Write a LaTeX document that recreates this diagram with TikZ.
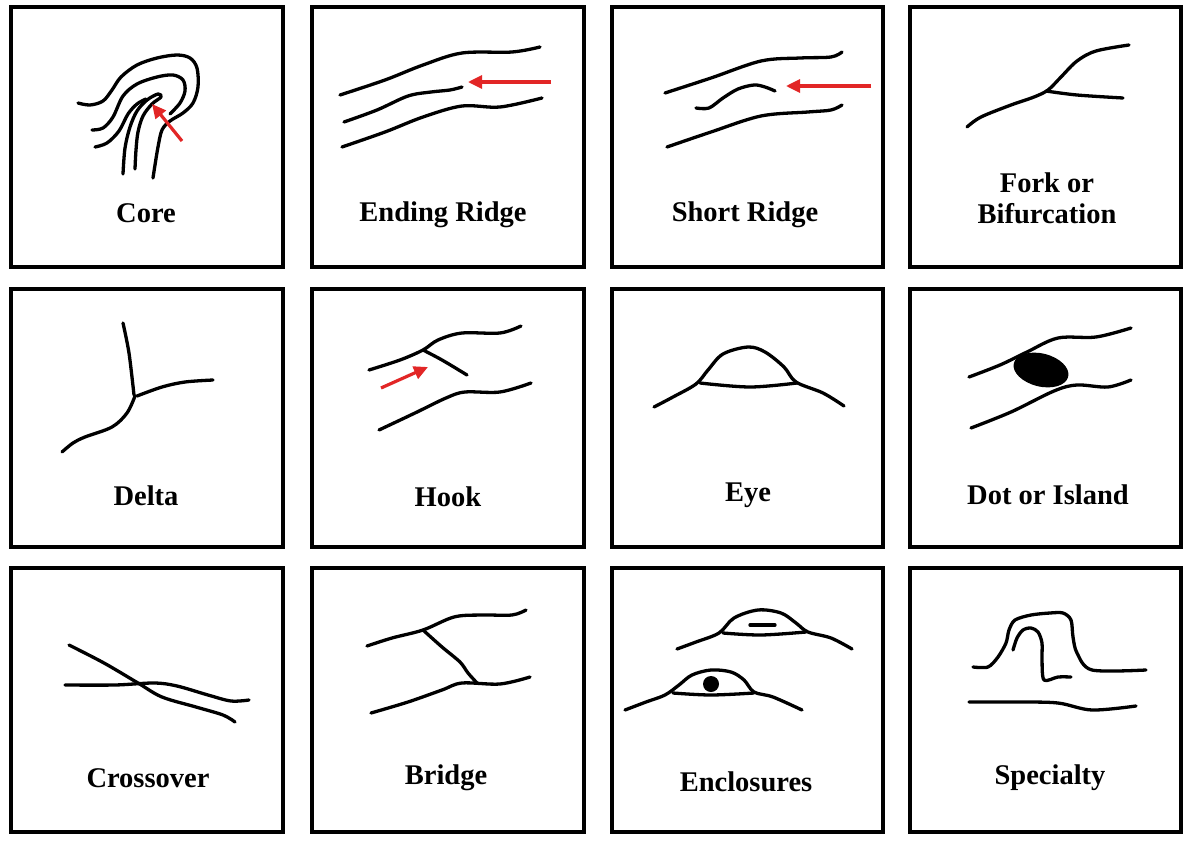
\documentclass[tikz,border=0pt]{standalone}
\usepackage{fontspec}
\setmainfont{Liberation Serif}
\usetikzlibrary{arrows.meta}
\definecolor{ridgered}{RGB}{226,38,38}
\begin{document}
\begin{tikzpicture}[x=1pt,y=-1pt,
  panelbox/.style={draw=black,line width=4.5pt},
  ridge/.style={draw=black,line width=3.3pt,line cap=round,line join=round},
  redarrow/.style={draw=ridgered,line width=3.2pt,-{Triangle[length=14pt,width=13pt]}},
  lbl/.style={font=\fontsize{28.5}{32}\selectfont\bfseries,align=center,inner sep=0pt}]
\useasboundingbox (0,0) rectangle (1192,846);
\fill[white] (0,0) rectangle (1192,846);
% panels
\foreach \xa/\xb in {11/283,312/584,612/883,910/1181}{
  \foreach \ya/\yb in {7/267,289/547,568/832}{
    \draw[panelbox] (\xa,\ya) rectangle (\xb,\yb);
  }}
% ---------- Core
\draw[ridge] plot[smooth,tension=0.55] coordinates {(78,103) (90,105) (103,101) (112,90) (121,77) (137,65) (157,58) (177,55) (190,58) (197,68) (198,87) (193,103) (183,113) (170,121) (162,130) (158,147) (155,165) (153,178)};
\draw[ridge] plot[smooth,tension=0.55] coordinates {(92,130) (103,128) (113,117) (123,96) (137,84) (157,77) (173,75) (183,80) (185,91) (180,103) (170,114)};
\draw[ridge] plot[smooth,tension=0.55] coordinates {(123,174) (125,148) (130,127) (137,111) (147,100) (158,94) (161,97) (152,104) (143,116) (138,132) (136,150) (135,169)};
\draw[ridge] plot[smooth,tension=0.55] coordinates {(95,147) (107,143) (119,131) (128,114) (137,104) (146,99)};
\coordinate (coreT) at (182,141);
\coordinate (coreH) at (152,104);
\draw[redarrow] (coreT) -- (coreH);
\node[lbl] (tcore) at (146,213) {Core};
% ---------- Ending Ridge
\draw[ridge] plot[smooth,tension=0.55] coordinates {(340,95) (385,80) (423,65) (462,53) (512,52) (540,47)};
\draw[ridge] plot[smooth,tension=0.55] coordinates {(344,122) (377,110) (408,96) (431,92) (450,90) (462,87)};
\draw[ridge] plot[smooth,tension=0.55] coordinates {(342,147) (385,132) (423,117) (462,106) (500,107) (542,98)};
\coordinate (endT) at (551,82);
\coordinate (endH) at (468,82);
\draw[redarrow] (endT) -- (endH);
\node[lbl] (tend) at (443,215) {Ending Ridge};
% ---------- Short Ridge
\draw[ridge] plot[smooth,tension=0.55] coordinates {(665,93) (711,78) (761,61) (800,58) (831,57) (842,52)};
\draw[ridge] plot[smooth,tension=0.55] coordinates {(696,108) (709,108) (723,98) (738,89) (754,85) (765,87) (775,91)};
\draw[ridge] plot[smooth,tension=0.55] coordinates {(667,147) (711,132) (761,116) (808,112) (831,110) (842,105)};
\coordinate (shortT) at (871,86);
\coordinate (shortH) at (786,86);
\draw[redarrow] (shortT) -- (shortH);
\node[lbl] (tshort) at (745,215) {Short Ridge};
% ---------- Fork
\draw[ridge] plot[smooth,tension=0.55] coordinates {(967,127) (981,117) (1011,105) (1034,97) (1048,90) (1061,77) (1077,61) (1096,51) (1129,45)};
\draw[ridge] plot[smooth,tension=0.55] coordinates {(1046,91) (1077,95) (1123,98)};
\node[lbl] (tfork) at (1047,198) {Fork or\\[-1pt]Bifurcation};
% ---------- Delta
\draw[ridge] plot[smooth,tension=0.5] coordinates {(123,323) (129,353) (134,395)};
\draw[ridge] plot[smooth,tension=0.55] coordinates {(137,396) (162,387) (185,382) (213,380)};
\draw[ridge] plot[smooth,tension=0.55] coordinates {(135,396) (127,413) (112,427) (85,437) (73,443) (62,452)};
\node[lbl] (tdelta) at (146,496) {Delta};
% ---------- Hook
\draw[ridge] plot[smooth,tension=0.55] coordinates {(369,370) (400,360) (423,350) (438,340) (462,333) (500,333) (521,326)};
\draw[ridge] plot[smooth,tension=0.55] coordinates {(423,350) (442,360) (467,375)};
\draw[ridge] plot[smooth,tension=0.55] coordinates {(379,430) (415,413) (446,398) (465,392) (500,392) (531,383)};
\coordinate (hookT) at (381,388);
\coordinate (hookH) at (428,367);
\draw[redarrow] (hookT) -- (hookH);
\node[lbl] (thook) at (448,497) {Hook};
% ---------- Eye
\draw[ridge] plot[smooth,tension=0.55] coordinates {(654,407) (673,397) (696,384) (708,370) (723,354) (748,347) (765,352) (784,367) (796,382) (823,393) (844,406)};
\draw[ridge] plot[smooth,tension=0.55] coordinates {(700,383) (750,387) (797,383)};
\node[lbl] (teye) at (748,495) {Eye};
% ---------- Dot or Island
\draw[ridge] plot[smooth,tension=0.55] coordinates {(969,377) (1000,365) (1027,352) (1058,338) (1096,337) (1131,328)};
\fill[black,rotate around={-14:(1041,370)}] (1041,370) ellipse (28pt and 16.5pt);
\draw[ridge] plot[smooth,tension=0.55] coordinates {(971,428) (1011,412) (1054,391) (1077,385) (1108,387) (1131,380)};
\node[lbl] (tdot) at (1048,495) {Dot or Island};
% ---------- Crossover
\draw[ridge] plot[smooth,tension=0.55] coordinates {(69,645) (104,663) (138,683) (162,697) (196,707) (223,715) (235,722)};
\draw[ridge] plot[smooth,tension=0.55] coordinates {(65,685) (115,685) (154,683) (177,686) (208,695) (231,701) (249,700)};
\node[lbl] (tcross) at (148,778) {Crossover};
% ---------- Bridge
\draw[ridge] plot[smooth,tension=0.55] coordinates {(367,646) (392,638) (423,630) (454,617) (481,615) (512,615) (526,610)};
\draw[ridge] plot[smooth,tension=0.5] coordinates {(423,630) (442,647) (460,662) (468,673) (477,683)};
\draw[ridge] plot[smooth,tension=0.55] coordinates {(371,713) (408,702) (442,690) (462,683) (500,684) (530,677)};
\node[lbl] (tbridge) at (446,778) {Bridge};
% ---------- Enclosures
\draw[ridge] plot[smooth,tension=0.55] coordinates {(677,649) (696,642) (719,633) (734,618) (758,610) (781,613) (796,623) (808,632) (831,638) (852,649)};
\draw[ridge] plot[smooth,tension=0.55] coordinates {(723,633) (761,635) (806,632)};
\draw[ridge] (750,625) -- (775,625);
\draw[ridge] plot[smooth,tension=0.55] coordinates {(625,710) (646,702) (665,695) (679,685) (692,675) (711,670) (731,672) (744,680) (754,692) (773,697) (802,710)};
\draw[ridge] plot[smooth,tension=0.55] coordinates {(673,693) (711,695) (754,693)};
\fill[black] (711,684) circle (8pt);
\node[lbl] (tencl) at (746,782) {Enclosures};
% ---------- Specialty
\draw[ridge] plot[smooth,tension=0.5] coordinates {(973,667) (988,667) (998,657) (1006,643) (1009,630) (1015,620) (1031,615) (1050,613) (1063,613) (1071,620) (1073,637) (1077,653) (1092,670) (1146,670)};
\draw[ridge] plot[smooth,tension=0.5] coordinates {(1013,650) (1017,638) (1023,630) (1031,628) (1038,632) (1042,643) (1042,660) (1044,680) (1058,677) (1071,677)};
\draw[ridge] plot[smooth,tension=0.55] coordinates {(969,702) (1019,702) (1058,703) (1092,710) (1136,706)};
\node[lbl] (tspec) at (1050,778) {Specialty};
\end{tikzpicture}
\end{document}
